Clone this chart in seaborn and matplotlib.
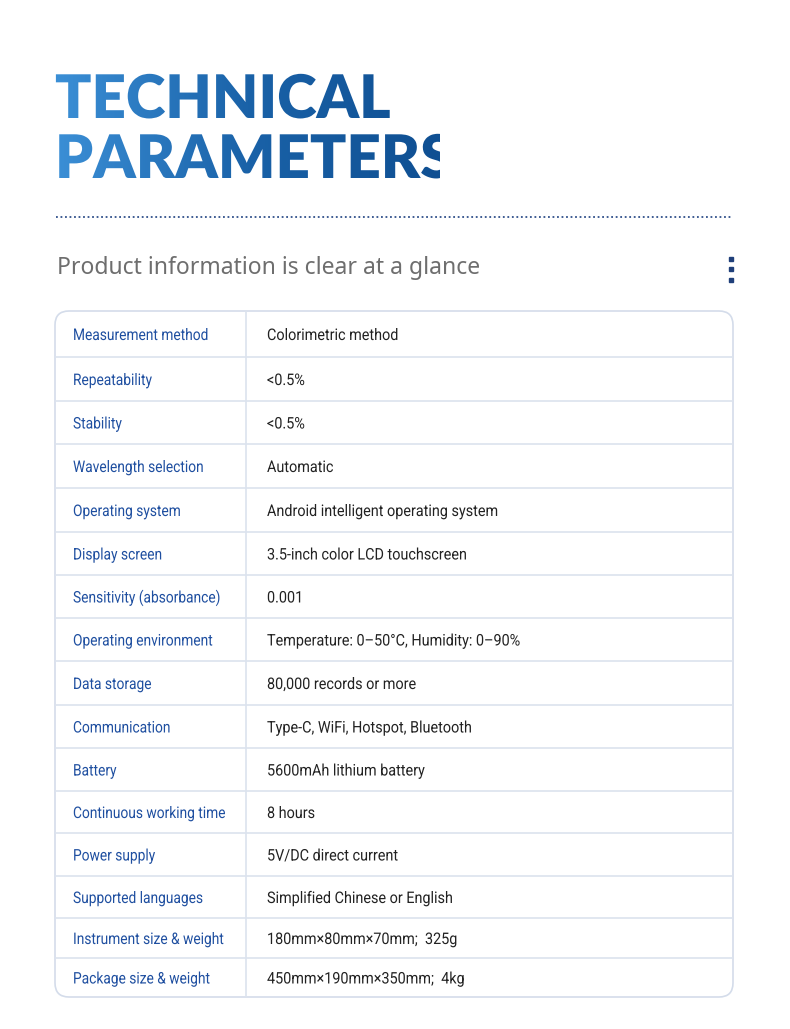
import matplotlib
matplotlib.use("Agg")
import matplotlib.pyplot as plt
import seaborn as sns
import numpy as np
from matplotlib.textpath import TextPath
from matplotlib.patches import PathPatch, FancyBboxPatch
from matplotlib.font_manager import FontProperties
from matplotlib.colors import LinearSegmentedColormap
import matplotlib.transforms as mtrans

sns.set_theme(style="white")
plt.rcParams['font.family'] = ['Roboto', 'DejaVu Sans']

title_lines = ["TECHNICAL", "PARAMETERS"]
subtitle = "Product information is clear at a glance"
param_names = ["Measurement method", "Repeatability", "Stability", "Wavelength selection",
               "Operating system", "Display screen", "Sensitivity (absorbance)",
               "Operating environment", "Data storage", "Communication", "Battery",
               "Continuous working time", "Power supply", "Supported languages",
               "Instrument size & weight", "Package size & weight"]
param_values = ["Colorimetric method", "<0.5%", "<0.5%", "Automatic",
                "Android intelligent operating system", "3.5-inch color LCD touchscreen",
                "0.001", "Temperature: 0–50°C, Humidity: 0–90%", "80,000 records or more",
                "Type-C, WiFi, Hotspot, Bluetooth", "5600mAh lithium battery", "8 hours",
                "5V/DC direct current", "Simplified Chinese or English",
                "180mm×80mm×70mm;  325g", "450mm×190mm×350mm;  4kg"]
row_edges = [311, 357, 401, 444, 488, 532, 575, 618, 661, 705, 748, 791, 833, 876, 918, 958, 997]

W, H = 790, 1029
fig = plt.figure(figsize=(W/100, H/100), dpi=100)
ax = fig.add_axes([0, 0, 1, 1])
ax.set_xlim(0, W); ax.set_ylim(H, 0); ax.axis("off")
fig.patch.set_facecolor("white")

grad = np.linspace(0, 1, 256).reshape(1, -1)
cmap = LinearSegmentedColormap.from_list("t", ["#3b8fd6", "#1a62a8", "#0f4f92"])
fp_title = FontProperties(family="Lato", weight="heavy")
for line, ybase in zip(title_lines, [118, 178]):
    tp = TextPath((0, 0), line, size=60, prop=fp_title)
    tr = mtrans.Affine2D().scale(1.0, -1).translate(55, ybase) + ax.transData
    patch = PathPatch(tp, transform=tr, facecolor="none", edgecolor="none")
    ax.add_patch(patch)
    im = ax.imshow(grad, cmap=cmap, extent=[55, 440, ybase + 5, ybase - 55], aspect="auto", zorder=2)
    im.set_clip_path(patch)
ax.set_xlim(0, W); ax.set_ylim(H, 0)

ax.plot([56, 733], [217, 217], color="#2f4f8a", lw=1.3, ls=(0, (1, 1.5)))
ax.text(57, 268, subtitle, fontsize=16.5, color="#6e6e6e", va="center", family="Noto Sans")
for yy in [259, 269, 280]:
    ax.plot(731, yy, "s", ms=3.5, color="#1f3f7a")

fp_tab = FontProperties(family="Roboto")
def ctext(x, y, s, color, size=16, sx=0.86):
    tp = TextPath((0, 0), s, size=size, prop=fp_tab)
    tr = mtrans.Affine2D().scale(sx, -1).translate(x, y) + ax.transData
    ax.add_patch(PathPatch(tp, transform=tr, fc=color, ec="none", zorder=3))

x0, x1, xc = 55, 733, 246
box = FancyBboxPatch((x0, row_edges[0]), x1 - x0, row_edges[-1] - row_edges[0],
                     boxstyle="round,pad=0,rounding_size=14", fc="white", ec="#d4dcea", lw=1.2)
ax.add_patch(box)
for y in row_edges[1:-1]:
    ax.plot([x0, x1], [y, y], color="#dce3ee", lw=1.2)
ax.plot([xc, xc], [row_edges[0], row_edges[-1]], color="#dce3ee", lw=1.2)
for i, (n, v) in enumerate(zip(param_names, param_values)):
    yc = (row_edges[i] + row_edges[i+1]) / 2
    ctext(73, yc + 6, n, "#1f4fa0")
    ctext(267, yc + 6, v, "#222222", sx=0.9)

fig.savefig("out.png", dpi=100)
